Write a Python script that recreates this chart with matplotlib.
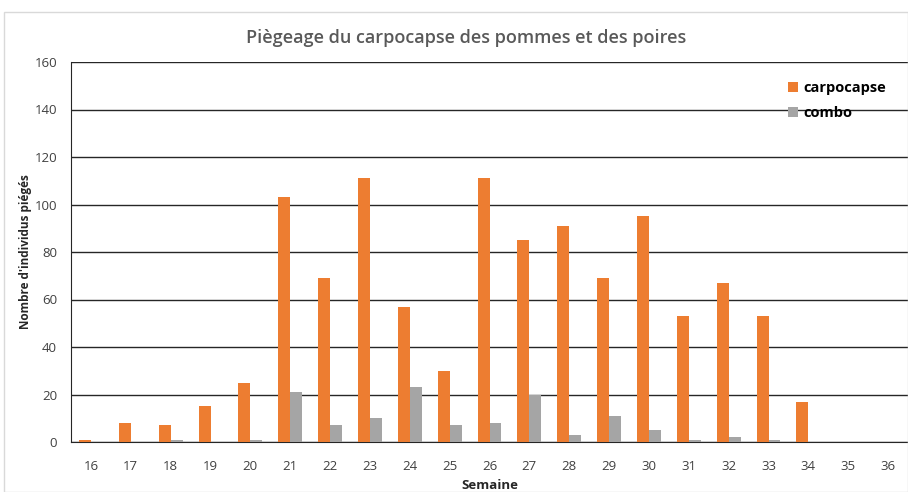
import matplotlib
matplotlib.use("Agg")
import matplotlib.pyplot as plt
import numpy as np
from matplotlib.patches import Rectangle

plt.rcParams['font.family'] = ['Open Sans', 'DejaVu Sans']

weeks = [str(w) for w in range(16, 37)]
carpocapse = [1, 8, 7, 15, 25, 103, 69, 111, 57, 30, 111, 85, 91, 69, 95, 53, 67, 53, 17, 0, 0]
combo = [0, 0, 1, 0, 1, 21, 7, 10, 23, 7, 8, 20, 3, 11, 5, 1, 2, 1, 0, 0, 0]

W, H = 908, 492
fig = plt.figure(figsize=(W/100, H/100), dpi=100)
fig.patches.append(Rectangle((4/W, 0.0), (W-4)/W, (H-12)/H, transform=fig.transFigure,
                             fill=False, edgecolor='#d9d9d9', lw=1))
ax = fig.add_axes([71/W, (H-442)/H, (908-71)/W, (442-62)/H])

x = np.arange(len(weeks))
bw = 0.3
ax.bar(x - bw/2, carpocapse, bw, color='#ed7d31', label='carpocapse', zorder=3)
ax.bar(x + bw/2, combo, bw, color='#a5a5a5', label='combo', zorder=3)

ax.set_xlim(-0.5, len(weeks) - 0.5)
ax.set_ylim(0, 160)
ax.set_yticks(range(0, 161, 20))
ax.set_xticks(x)
ax.set_xticklabels(weeks)
ax.yaxis.grid(True, color='#262626', lw=1, zorder=0)
for s in ['top', 'right']:
    ax.spines[s].set_visible(False)
ax.spines['left'].set_color('#262626')
ax.spines['bottom'].set_color('#262626')
ax.tick_params(axis='both', length=0, labelsize=9.5, colors='#404040')
ax.tick_params(axis='x', pad=13)
ax.tick_params(axis='y', pad=10)

ax.set_xlabel('Semaine', fontsize=9.5, fontweight='bold', color='#262626', labelpad=4)
ax.set_ylabel("Nombre d'individus piégés", fontsize=8.5, fontweight='bold', color='#262626', labelpad=2)

fig.text(466/W, (H-38)/H, 'Piègeage du carpocapse des pommes et des poires',
         ha='center', va='center', fontsize=13, fontweight='semibold', color='#595959')

leg = ax.legend(loc='upper right', bbox_to_anchor=(0.99, 0.985), frameon=False,
                fontsize=10.5, handlelength=0.7, handleheight=0.7, handletextpad=0.4,
                labelspacing=0.8)
for t in leg.get_texts():
    t.set_fontweight('bold')
    t.set_color('#000000')

fig.savefig('out.png', dpi=100)
